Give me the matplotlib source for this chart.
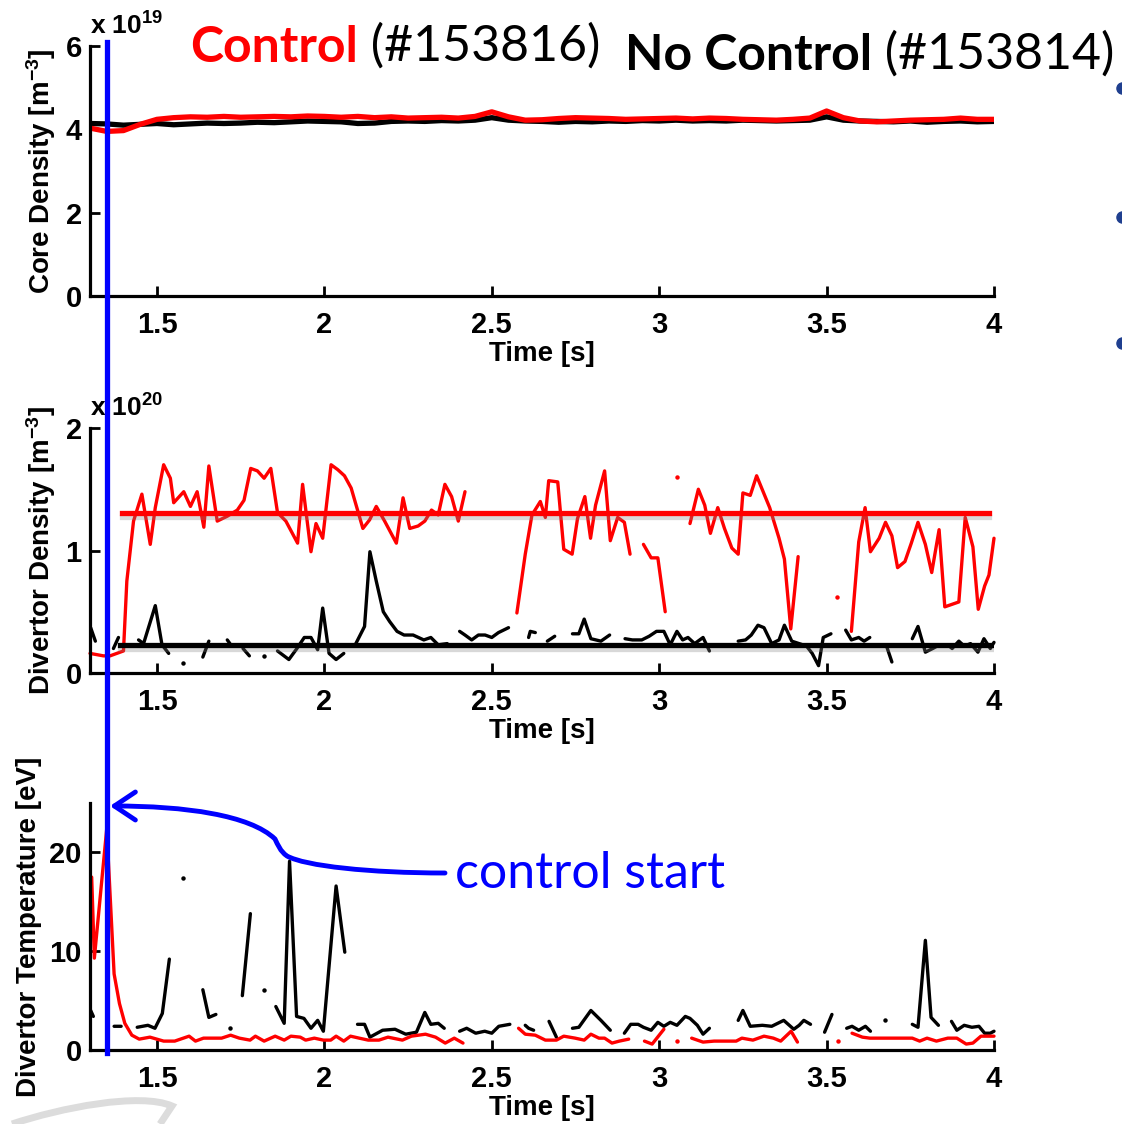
import numpy as np
import matplotlib
matplotlib.use("Agg")
import matplotlib.pyplot as plt
import matplotlib.patheffects as pe
from matplotlib.path import Path
from matplotlib.patches import FancyArrowPatch, PathPatch
from matplotlib.lines import Line2D
from matplotlib.transforms import blended_transform_factory

plt.rcParams['font.family'] = ['Liberation Sans', 'DejaVu Sans']
plt.rcParams['font.weight'] = 'bold'
plt.rcParams['mathtext.fontset'] = 'custom'
plt.rcParams['mathtext.rm'] = 'Liberation Sans:bold'
plt.rcParams['mathtext.it'] = 'Liberation Sans:bold'
plt.rcParams['mathtext.bf'] = 'Liberation Sans:bold'
plt.rcParams['mathtext.default'] = 'rm'

nan = np.nan
GAP = (nan, nan)

# ---- core density (x 1e19 m^-3), sampled every 50 ms ----
t_core = np.round(np.arange(1.30, 4.001, 0.05), 2)
core_ctrl = [4.03, 3.95, 3.97, 4.12, 4.24, 4.28, 4.30, 4.29, 4.31, 4.29, 4.30, 4.31, 4.30, 4.32,
             4.31, 4.29, 4.31, 4.28, 4.30, 4.27, 4.28, 4.29, 4.27, 4.31, 4.42, 4.30, 4.22, 4.23,
             4.26, 4.28, 4.27, 4.26, 4.24, 4.25, 4.26, 4.27, 4.25, 4.27, 4.26, 4.24, 4.23, 4.22,
             4.24, 4.27, 4.44, 4.28, 4.20, 4.18, 4.20, 4.22, 4.23, 4.24, 4.27, 4.24, 4.24]
core_noctrl = [4.14, 4.13, 4.10, 4.12, 4.14, 4.11, 4.13, 4.15, 4.14, 4.15, 4.17, 4.16, 4.18, 4.20,
               4.19, 4.18, 4.14, 4.15, 4.19, 4.20, 4.19, 4.21, 4.20, 4.22, 4.28, 4.22, 4.20, 4.19,
               4.17, 4.19, 4.18, 4.20, 4.19, 4.21, 4.20, 4.22, 4.20, 4.21, 4.20, 4.22, 4.21, 4.20,
               4.21, 4.22, 4.30, 4.22, 4.20, 4.19, 4.18, 4.20, 4.17, 4.19, 4.20, 4.18, 4.19]

# ---- divertor density (x 1e20 m^-3), (time, value), GAP = missing data ----
div_dens_ctrl = [
    (1.30, 0.16), (1.34, 0.14), (1.36, 0.14), (1.40, 0.18), (1.41, 0.75), (1.43, 1.24), (1.455, 1.46),
    (1.48, 1.05), (1.495, 1.35), (1.52, 1.70), (1.54, 1.59), (1.55, 1.39), (1.58, 1.48), (1.60, 1.36),
    (1.62, 1.48), (1.64, 1.19), (1.655, 1.69), (1.68, 1.24), (1.71, 1.28), (1.74, 1.33), (1.76, 1.41),
    (1.78, 1.67), (1.80, 1.65), (1.82, 1.59), (1.84, 1.67), (1.86, 1.31), (1.885, 1.24), (1.92, 1.06),
    (1.935, 1.54), (1.96, 0.99), (1.975, 1.22), (1.995, 1.10), (2.02, 1.70), (2.04, 1.66), (2.06, 1.61),
    (2.08, 1.51), (2.115, 1.18), (2.135, 1.25), (2.155, 1.36), (2.18, 1.24), (2.215, 1.06), (2.235, 1.43),
    (2.255, 1.18), (2.28, 1.20), (2.30, 1.24), (2.32, 1.33), (2.34, 1.29), (2.36, 1.54), (2.38, 1.44),
    (2.40, 1.24), (2.42, 1.48), GAP,
    (2.575, 0.49), (2.60, 0.97), (2.62, 1.29), (2.645, 1.40), (2.66, 1.27), (2.67, 1.57), (2.697, 1.56),
    (2.715, 1.01), (2.74, 0.97), (2.756, 1.26), (2.778, 1.44), (2.795, 1.10), (2.81, 1.37), (2.837, 1.65),
    (2.854, 1.08), (2.876, 1.27), (2.896, 1.23), (2.913, 0.97), GAP,
    (2.953, 1.05), (2.976, 0.94), (2.996, 0.94), (3.018, 0.50), GAP,
    (3.053, 1.60), GAP,
    (3.092, 1.22), (3.117, 1.50), (3.136, 1.37), (3.153, 1.14), (3.175, 1.35), (3.195, 1.18), (3.217, 1.02),
    (3.236, 0.97), (3.25, 1.47), (3.272, 1.45), (3.291, 1.61), (3.33, 1.35), (3.358, 1.10), (3.374, 0.93),
    (3.393, 0.36), (3.415, 0.95), GAP,
    (3.532, 0.62), GAP,
    (3.574, 0.34), (3.596, 1.07), (3.615, 1.35), (3.631, 0.99), (3.657, 1.10), (3.676, 1.23), (3.695, 1.12),
    (3.712, 0.86), (3.734, 0.91), (3.753, 1.06), (3.773, 1.23), (3.795, 1.05), (3.814, 0.82), (3.836, 1.17),
    (3.853, 0.54), (3.895, 0.58), (3.914, 1.27), (3.937, 1.03), (3.953, 0.52), (3.972, 0.71), (3.985, 0.80),
    (4.0, 1.10)]

div_dens_noctrl = [
    (1.302, 0.37), (1.316, 0.26), GAP,
    (1.37, 0.20), (1.385, 0.29), GAP,
    (1.445, 0.27), (1.46, 0.24), (1.495, 0.55), (1.515, 0.23), (1.535, 0.16), GAP,
    (1.578, 0.08), GAP,
    (1.637, 0.13), (1.655, 0.26), GAP,
    (1.71, 0.27), (1.718, 0.24), GAP,
    (1.757, 0.20), (1.776, 0.14), GAP,
    (1.819, 0.14), GAP,
    (1.86, 0.18), (1.894, 0.11), (1.918, 0.20), (1.94, 0.29), (1.96, 0.29), (1.98, 0.19), (1.995, 0.53),
    (2.014, 0.16), (2.035, 0.11), (2.058, 0.16), GAP,
    (2.094, 0.24), (2.12, 0.38), (2.136, 0.99), (2.155, 0.75), (2.176, 0.50), (2.195, 0.42), (2.217, 0.34),
    (2.238, 0.31), (2.265, 0.31), (2.297, 0.27), (2.318, 0.29), (2.34, 0.23), (2.367, 0.24), GAP,
    (2.404, 0.34), (2.42, 0.31), (2.44, 0.27), (2.46, 0.31), (2.48, 0.31), (2.50, 0.29), (2.52, 0.33),
    (2.55, 0.37), GAP,
    (2.61, 0.29), (2.615, 0.34), (2.63, 0.33), GAP,
    (2.666, 0.26), (2.688, 0.30), GAP,
    (2.741, 0.32), (2.76, 0.32), (2.776, 0.44), (2.796, 0.28), (2.826, 0.26), (2.852, 0.31), GAP,
    (2.898, 0.28), (2.92, 0.27), (2.948, 0.27), (2.97, 0.30), (2.992, 0.34), (3.014, 0.34), (3.033, 0.23),
    (3.053, 0.34), (3.07, 0.27), (3.086, 0.29), (3.106, 0.24), (3.131, 0.29), (3.15, 0.18), GAP,
    (3.236, 0.26), (3.258, 0.27), (3.275, 0.31), (3.295, 0.39), (3.313, 0.37), (3.336, 0.24), (3.358, 0.27),
    (3.374, 0.39), (3.396, 0.26), (3.418, 0.24), (3.44, 0.22), (3.457, 0.16), (3.476, 0.06), (3.49, 0.29),
    (3.513, 0.32), GAP,
    (3.557, 0.35), (3.574, 0.27), (3.596, 0.29), (3.612, 0.26), (3.629, 0.29), GAP,
    (3.679, 0.22), (3.695, 0.09), GAP,
    (3.756, 0.28), (3.773, 0.38), (3.795, 0.17), (3.817, 0.20), (3.837, 0.23), (3.862, 0.23), (3.875, 0.20),
    (3.895, 0.26), (3.911, 0.22), (3.93, 0.24), (3.952, 0.17), (3.97, 0.28), (3.989, 0.20), (4.0, 0.25)]

# target / reference levels (x 1e20 m^-3) and the time span they are drawn over
dens_target_ctrl = 1.31
dens_target_ctrl_span = (1.395, 3.985)
dens_level_noctrl = 0.23
dens_level_noctrl_span = (1.39, 4.0)

# ---- divertor temperature (eV) ----
div_temp_ctrl = [
    (1.305, 17.5), (1.313, 9.3), (1.35, 22.4), (1.372, 7.7), (1.388, 4.7), (1.404, 2.7), (1.425, 1.5),
    (1.447, 1.1), (1.479, 1.3), (1.52, 0.9), (1.553, 0.9), (1.596, 1.4), (1.615, 0.9), (1.639, 1.2),
    (1.693, 1.2), (1.72, 1.5), (1.746, 1.2), (1.778, 1.0), (1.794, 1.4), (1.82, 0.9), (1.853, 1.4),
    (1.88, 1.0), (1.90, 1.4), (1.928, 1.3), (1.944, 1.0), (1.97, 1.2), (1.997, 1.0), (2.019, 1.0),
    (2.035, 1.4), (2.058, 0.9), (2.078, 1.4), (2.104, 1.2), (2.131, 1.0), (2.163, 1.0), (2.19, 1.3),
    (2.233, 1.0), (2.26, 1.4), (2.302, 1.6), (2.332, 1.3), (2.361, 0.7), (2.388, 1.2), (2.414, 0.7), GAP,
    (2.58, 2.2), (2.60, 1.6), (2.63, 1.5), (2.66, 1.0), (2.693, 1.0), (2.715, 1.4), (2.749, 1.2),
    (2.776, 1.0), (2.796, 1.6), (2.82, 1.2), (2.837, 1.2), (2.859, 0.7), (2.881, 0.9), (2.909, 1.1), GAP,
    (2.956, 0.9), (2.979, 0.6), (3.014, 2.1), GAP,
    (3.053, 0.9), GAP,
    (3.097, 1.2), (3.131, 0.8), (3.164, 0.9), (3.197, 0.9), (3.23, 0.9), (3.247, 1.2), (3.28, 1.0),
    (3.313, 1.4), (3.341, 1.2), (3.363, 0.9), (3.394, 1.9), (3.413, 0.8), GAP,
    (3.533, 0.9), GAP,
    (3.576, 1.7), (3.607, 1.3), (3.629, 1.2), (3.707, 1.2), (3.756, 1.2), (3.778, 0.9), (3.80, 1.2),
    (3.828, 0.9), (3.862, 1.2), (3.889, 1.2), (3.917, 0.6), (3.937, 0.7), (3.961, 1.4), (4.0, 1.4)]

div_temp_noctrl = [
    (1.302, 4.0), (1.31, 3.4), GAP,
    (1.372, 2.4), (1.393, 2.4), GAP,
    (1.441, 2.3), (1.473, 2.5), (1.494, 2.2), (1.516, 3.7), (1.537, 9.2), GAP,
    (1.577, 17.4), GAP,
    (1.637, 6.1), (1.655, 3.3), (1.676, 3.6), GAP,
    (1.719, 2.2), GAP,
    (1.755, 5.5), (1.779, 13.8), GAP,
    (1.819, 6.1), GAP,
    (1.855, 4.4), (1.88, 2.7), (1.896, 19.1), (1.917, 3.4), (1.939, 3.2), (1.96, 2.2), (1.98, 3.0),
    (1.997, 1.9), (2.035, 16.6), (2.061, 9.9), GAP,
    (2.099, 2.6), (2.12, 2.6), (2.136, 1.3), (2.174, 2.0), (2.211, 2.1), (2.243, 1.6), (2.275, 1.8),
    (2.30, 3.8), (2.318, 2.6), (2.34, 2.7), (2.358, 2.2), GAP,
    (2.404, 1.9), (2.425, 2.2), (2.452, 1.7), (2.479, 1.9), (2.50, 1.7), (2.521, 2.4), (2.554, 2.6), GAP,
    (2.60, 2.5), (2.61, 2.2), (2.625, 2.0), GAP,
    (2.671, 2.9), (2.693, 1.3), GAP,
    (2.741, 2.2), (2.76, 2.3), (2.796, 4.0), (2.826, 3.0), (2.854, 2.0), GAP,
    (2.896, 1.7), (2.915, 2.6), (2.937, 2.6), (2.953, 2.3), (2.976, 2.0), (2.996, 2.8), (3.014, 2.4),
    (3.033, 2.8), (3.053, 2.5), (3.078, 3.4), (3.092, 3.2), (3.114, 2.5), (3.131, 1.6), (3.15, 2.2), GAP,
    (3.236, 3.0), (3.25, 4.0), (3.272, 2.4), (3.308, 2.5), (3.336, 2.4), (3.372, 3.0), (3.402, 2.1),
    (3.418, 2.5), (3.432, 3.0), (3.452, 2.6), GAP,
    (3.494, 1.8), (3.516, 3.6), GAP,
    (3.56, 2.2), (3.576, 2.4), (3.596, 2.0), (3.616, 2.4), (3.631, 1.9), GAP,
    (3.673, 3.0), GAP,
    (3.756, 2.6), (3.773, 2.3), (3.795, 11.1), (3.812, 3.3), (3.834, 2.5), GAP,
    (3.873, 2.9), (3.889, 2.0), (3.911, 2.5), (3.934, 2.3), (3.955, 2.4), (3.972, 1.7), (3.989, 1.7),
    (4.0, 1.9)]

control_start = 1.35
xticks = [1.5, 2, 2.5, 3, 3.5, 4]
xticklabels = ['1.5', '2', '2.5', '3', '3.5', '4']

RED = '#ff0000'
BLACK = '#000000'
BLUE = '#0000ff'


def draw_series(ax, pairs, color, lw=2.4):
    t, v = np.array(pairs, dtype=float).T
    ax.plot(t, v, color=color, lw=lw, solid_capstyle='round', solid_joinstyle='round', clip_on=False)
    # isolated samples show up as dots
    ok = np.isfinite(v)
    prev_ok = np.r_[False, ok[:-1]]
    next_ok = np.r_[ok[1:], False]
    lone = ok & ~prev_ok & ~next_ok
    ax.plot(t[lone], v[lone], ls='none', marker='o', ms=3.2, color=color, mec='none')


def style_axes(ax, ylim, yticks, ylabel):
    ax.set_xlim(1.3, 4.0)
    ax.set_ylim(*ylim)
    ax.set_xticks(xticks)
    ax.set_xticklabels(xticklabels)
    ax.set_yticks(yticks)
    for s in ['top', 'right']:
        ax.spines[s].set_visible(False)
    for s in ['left', 'bottom']:
        ax.spines[s].set_linewidth(2.3)
    ax.tick_params(direction='in', length=7, width=2.0, labelsize=21, pad=11)
    ax.tick_params(axis='y', pad=6)
    for lab in ax.get_xticklabels() + ax.get_yticklabels():
        lab.set_fontweight('bold')
    ax.set_xlabel('Time [s]', fontsize=20, fontweight='bold', labelpad=1)
    ax.set_ylabel(ylabel, fontsize=20, fontweight='bold', labelpad=5)
    ax.patch.set_alpha(0)


fig = plt.figure(figsize=(11.22, 11.24), dpi=100)
left, width = 90 / 1122, (994 - 90) / 1122
ax1 = fig.add_axes([left, 1 - 296 / 1124, width, 250 / 1124])
ax2 = fig.add_axes([left, 1 - 673 / 1124, width, 245 / 1124])
ax3 = fig.add_axes([left, 1 - 1050 / 1124, width, 247 / 1124])

# core density
ax1.plot(t_core, core_noctrl, color=BLACK, lw=3.8)
ax1.plot(t_core, core_ctrl, color=RED, lw=3.8)
style_axes(ax1, (0, 6), [0, 2, 4, 6], 'Core Density [m$^{-3}$]')
ax1.text(0.0, 1.025, 'x 10$^{19}$', transform=ax1.transAxes, fontsize=19, fontweight='bold',
         ha='left', va='bottom')

# divertor density
draw_series(ax2, div_dens_noctrl, BLACK)
draw_series(ax2, div_dens_ctrl, RED)
shadow = [pe.SimpleLineShadow(offset=(0, -3), shadow_color='gray', alpha=0.3), pe.Normal()]
ax2.plot(dens_target_ctrl_span, [dens_target_ctrl] * 2, color=RED, lw=3.8, path_effects=shadow)
ax2.plot(dens_level_noctrl_span, [dens_level_noctrl] * 2, color=BLACK, lw=3.8, path_effects=shadow)
style_axes(ax2, (0, 2), [0, 1, 2], 'Divertor Density [m$^{-3}$]')
ax2.text(0.0, 1.025, 'x 10$^{20}$', transform=ax2.transAxes, fontsize=19, fontweight='bold',
         ha='left', va='bottom')

# divertor temperature
draw_series(ax3, div_temp_noctrl, BLACK)
draw_series(ax3, div_temp_ctrl, RED)
style_axes(ax3, (0, 25), [0, 10, 20], 'Divertor Temperature [eV]')

# control start marker spanning all panels
tr = blended_transform_factory(ax1.transData, fig.transFigure)
fig.add_artist(Line2D([control_start, control_start], [1 - 42 / 1124, 1 - 1053 / 1124],
                      transform=tr, color=BLUE, lw=3.8))


def px(x, y):
    return (x / 1122, 1 - y / 1124)


verts = [px(445, 873), px(370, 873), px(305, 866), px(287, 856),
         px(280, 851), px(278, 845), px(275, 839),
         px(250, 815), px(185, 806), px(110, 806)]
codes = [Path.MOVETO, Path.CURVE4, Path.CURVE4, Path.CURVE4,
         Path.CURVE4, Path.CURVE4, Path.CURVE4,
         Path.CURVE4, Path.CURVE4, Path.CURVE4]
arrow = FancyArrowPatch(path=Path(verts, codes), arrowstyle='->,head_length=0.36,head_width=0.24',
                        mutation_scale=42, lw=3.5, color=BLUE, transform=fig.transFigure)
fig.add_artist(arrow)
fig.text(455 / 1122, 1 - 888 / 1124, 'control start', color=BLUE, fontsize=36,
         fontweight='normal', family='Lato', ha='left', va='baseline')

# header
t1 = fig.text(190 / 1122, 1 - 62 / 1124, 'Control', color=RED, fontsize=36, fontweight='bold',
              family='Lato', ha='left', va='baseline')
fig.add_artist(plt.Annotation(' (#153816)', xy=(1, 0), xycoords=t1, va='bottom', ha='left',
                              fontsize=36, fontweight='normal', family='Lato', color=BLACK))
t2 = fig.text(625 / 1122, 1 - 70 / 1124, 'No Control', color=BLACK, fontsize=36, fontweight='bold',
              family='Lato', ha='left', va='baseline')
fig.add_artist(plt.Annotation(' (#153814)', xy=(1, 0), xycoords=t2, va='bottom', ha='left',
                              fontsize=36, fontweight='normal', family='Lato', color=BLACK))

# slide leftovers: bullet dots at the right edge and a grey swoosh bottom-left
fig.add_artist(Line2D([1.0, 1.0, 1.0], [1 - 88 / 1124, 1 - 217 / 1124, 1 - 343 / 1124],
                      transform=fig.transFigure, ls='none', marker='o', ms=8,
                      color='#1f3f8f', clip_on=False))
sw = Path([px(12, 1124), px(60, 1108), px(140, 1092), px(172, 1106), px(160, 1124)],
          [Path.MOVETO, Path.CURVE4, Path.CURVE4, Path.CURVE4, Path.LINETO])
fig.add_artist(PathPatch(sw, transform=fig.transFigure, fc='none', ec='#dcdcdc', lw=5))

fig.savefig('out.png', dpi=100)
